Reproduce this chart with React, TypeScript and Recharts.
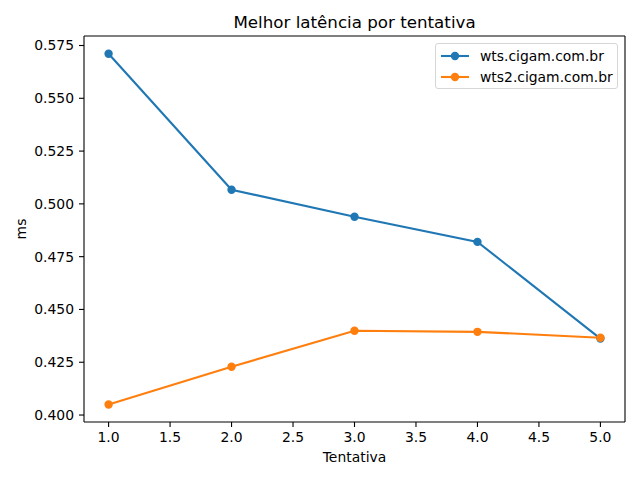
import React from 'react';
import { LineChart, Line, XAxis, YAxis, Legend } from 'recharts';

const attempts = [1, 2, 3, 4, 5];
const wtsValues = [0.5711, 0.5067, 0.4939, 0.482, 0.4362];
const wts2Values = [0.405, 0.4229, 0.4399, 0.4394, 0.4366];
const xTicks = [1.0, 1.5, 2.0, 2.5, 3.0, 3.5, 4.0, 4.5, 5.0];
const yTicks = [0.4, 0.425, 0.45, 0.475, 0.5, 0.525, 0.55, 0.575];
const seriesNames = ['wts.cigam.com.br', 'wts2.cigam.com.br'];
const titleText = 'Melhor latência por tentativa';
const xLabelText = 'Tentativa';
const yLabelText = 'ms';

const data = attempts.map((a, i) => ({ x: a, wts: wtsValues[i], wts2: wts2Values[i] }));

const FONT = '"DejaVu Sans", sans-serif';
const BLUE = '#1f77b4';
const ORANGE = '#ff7f0e';

const LegendBox = (props: any) => {
  const payload = props.payload || [];
  return (
    <div
      style={{
        boxSizing: 'border-box',
        width: 183,
        height: 46,
        border: '1px solid #d6d6d6',
        borderRadius: 3,
        background: 'rgba(255,255,255,0.8)',
        fontFamily: FONT,
        fontSize: 13.9,
        color: '#000',
        paddingTop: 2,
      }}
    >
      {payload.map((p: any, i: number) => (
        <div key={i} style={{ height: 20.8, display: 'flex', alignItems: 'center', whiteSpace: 'nowrap' }}>
          <svg width={44} height={12} style={{ flex: 'none' }}>
            <line x1={5} y1={6} x2={33} y2={6} stroke={p.color} strokeWidth={2.1} />
            <circle cx={19} cy={6} r={4.2} fill={p.color} />
          </svg>
          <span style={{ lineHeight: '14px' }}>{p.value}</span>
        </div>
      ))}
    </div>
  );
};

export default function App() {
  return (
    <div style={{ margin: -8, width: 640, height: 480 }}>
      <LineChart
        width={640}
        height={480}
        data={data}
        margin={{ top: 35, right: 14, bottom: 0, left: 0 }}
        style={{ fontFamily: FONT }}
      >
        <XAxis
          dataKey="x"
          type="number"
          domain={[0.8, 5.2]}
          ticks={xTicks}
          allowDataOverflow
          tickFormatter={(v: number) => v.toFixed(1)}
          height={58}
          tickSize={5}
          tickMargin={5}
          stroke="#000"
          strokeWidth={1.1}
          tick={{ fill: '#000', fontSize: 13.9, fontFamily: FONT }}
          tickLine={{ stroke: '#000', strokeWidth: 1.1 }}
          label={(props: any) => {
            const vb = props.viewBox;
            return (
              <text x={vb.x + vb.width / 2} y={462.3} textAnchor="middle" fontSize={13.9} fontFamily={FONT} fill="#000">
                {xLabelText}
              </text>
            );
          }}
        />
        <XAxis
          xAxisId="top"
          orientation="top"
          dataKey="x"
          type="number"
          domain={[0.8, 5.2]}
          allowDataOverflow
          height={1}
          tick={false}
          tickLine={false}
          stroke="#000"
          strokeWidth={1.1}
          label={(props: any) => {
            const vb = props.viewBox;
            return (
              <text x={vb.x + vb.width / 2} y={27.7} textAnchor="middle" fontSize={16.7} fontFamily={FONT} fill="#000">
                {titleText}
              </text>
            );
          }}
        />
        <YAxis
          type="number"
          domain={[0.3967, 0.5795]}
          allowDataOverflow
          ticks={yTicks}
          tickFormatter={(v: number) => v.toFixed(3)}
          width={84}
          tickSize={5}
          tickMargin={5}
          stroke="#000"
          strokeWidth={1.1}
          tick={{ fill: '#000', fontSize: 13.9, fontFamily: FONT }}
          tickLine={{ stroke: '#000', strokeWidth: 1.1 }}
          label={(props: any) => {
            const vb = props.viewBox;
            const cx = 26;
            const cy = vb.y + vb.height / 2;
            return (
              <text
                x={cx}
                y={cy}
                textAnchor="middle"
                fontSize={13.9}
                fontFamily={FONT}
                fill="#000"
                transform={`rotate(-90, ${cx}, ${cy})`}
              >
                {yLabelText}
              </text>
            );
          }}
        />
        <YAxis
          yAxisId="right"
          orientation="right"
          type="number"
          domain={[0.3967, 0.5795]}
          width={1}
          tick={false}
          tickLine={false}
          stroke="#000"
          strokeWidth={1.1}
        />
        <Legend
          layout="vertical"
          align="center"
          verticalAlign="middle"
          wrapperStyle={{ left: 435, top: 43, width: 183, height: 46 }}
          content={<LegendBox />}
        />
        <Line
          dataKey="wts"
          name={seriesNames[0]}
          stroke={BLUE}
          strokeWidth={2.1}
          dot={{ r: 4.2, fill: BLUE, stroke: 'none' }}
          activeDot={false}
          isAnimationActive={false}
          type="linear"
        />
        <Line
          dataKey="wts2"
          name={seriesNames[1]}
          stroke={ORANGE}
          strokeWidth={2.1}
          dot={{ r: 4.2, fill: ORANGE, stroke: 'none' }}
          activeDot={false}
          isAnimationActive={false}
          type="linear"
        />
      </LineChart>
    </div>
  );
}
